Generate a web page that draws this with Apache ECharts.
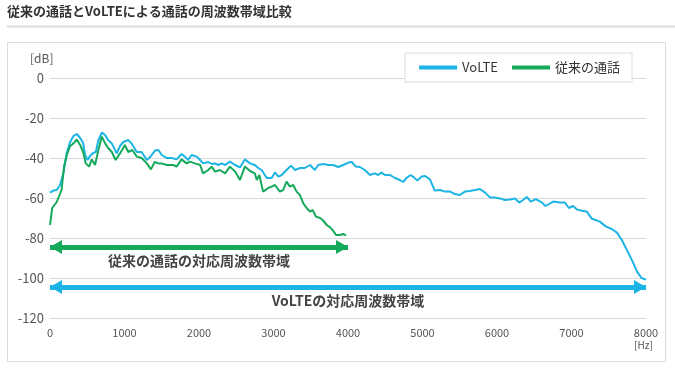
<!DOCTYPE html>
<html><head><meta charset="utf-8">
<script src="https://cdn.jsdelivr.net/npm/echarts@6/dist/echarts.min.js"></script>
<style>html,body{margin:0;padding:0;background:#fff}#c{width:675px;height:373px}</style>
</head><body><div id="c"></div>
<script>
var titleText = '従来の通話とVoLTEによる通話の周波数帯域比較';
var seriesNames = ['VoLTE', '従来の通話'];
var bandLabels = ['従来の通話の対応周波数帯域', 'VoLTEの対応周波数帯域'];
var legacyBand = [0, 4000, -84.5];
var volteBand = [0, 8000, -104.5];
var yTicks = [-120, 0, 20];
var xTicks = [0, 8000, 1000];

var volteFreq = [0,45,90,135,180,225,270,315,360,405,445,470,505,535,580,615,650,695,740,780,830,895,940,985,1050,1095,1165,1230,1300,1345,1410,1455,1500,1565,1635,1700,1765,1810,1855,1900,1970,2015,2055,2125,2170,2215,2260,2305,2350,2415,2485,2550,2615,2685,2750,2795,2840,2910,2975,3020,3065,3110,3175,3235,3290,3355,3420,3490,3555,3600,3670,3735,3800,3870,3935,4005,4050,4105,4160,4225,4295,4360,4405,4450,4495,4565,4630,4695,4740,4785,4840,4885,4930,4990,5035,5100,5165,5235,5300,5370,5435,5500,5570,5635,5705,5770,5840,5905,5970,6040,6105,6175,6240,6300,6350,6400,6455,6520,6600,6650,6755,6845,6910,6965,7020,7075,7155,7205,7275,7380,7460,7540,7610,7675,7755,7825,7880,7940,8000];
var volteDb = [-57.3,-56.3,-56,-53.5,-47.5,-37.5,-32,-29,-28,-30,-32.5,-38.5,-41,-39,-37.5,-37,-31,-27.3,-28.5,-31,-32.7,-37.7,-34,-32,-31,-32.7,-37,-37,-41,-39.5,-36.3,-36,-38.5,-40,-40,-40.7,-38,-39.3,-41,-38.5,-39.3,-41,-42.7,-42,-43,-42.7,-43.5,-42.7,-43.5,-41.8,-43.5,-44.7,-40.7,-42.7,-43.5,-45,-46,-50,-50,-47.2,-49.3,-48.5,-46,-43.8,-46,-45,-45,-43.5,-46,-43.5,-43,-43.5,-43.5,-44.5,-43.5,-42.3,-42,-44.3,-44.5,-46,-48.5,-47.7,-48.5,-47.3,-48.5,-48.5,-50,-51,-52,-50,-48.5,-49.7,-51.3,-49.3,-49,-50.7,-56.3,-56,-56.8,-56.8,-58,-58.5,-56.8,-56.5,-56,-55.5,-57.3,-59.7,-59.7,-60.2,-61,-60.7,-60.3,-62.3,-61,-59.5,-61.8,-60.6,-62.2,-64,-61.8,-62.2,-62.3,-65,-64,-65.8,-66.5,-66.8,-70.4,-71.8,-74.2,-75.5,-77.3,-81,-86.8,-92.2,-96.8,-100,-100.8];

var legacyFreq = [0,30,90,155,190,225,270,315,360,405,445,480,525,560,605,650,695,740,780,830,880,940,1005,1050,1105,1165,1230,1300,1355,1405,1455,1500,1565,1655,1700,1765,1835,1880,1945,2015,2055,2125,2170,2215,2280,2350,2415,2485,2550,2615,2685,2750,2775,2810,2860,2930,2975,3020,3085,3130,3175,3220,3265,3310,3355,3400,3445,3490,3525,3570,3625,3660,3715,3760,3800,3840,3890,3935,3975];
var legacyDb = [-73.5,-65,-62,-56,-44,-38.5,-34,-32.7,-30.7,-33.5,-37,-42.7,-44.3,-40.7,-43.5,-36,-29.3,-32.7,-35,-37,-41,-37.7,-33.5,-37,-36,-39.3,-40,-42.7,-45.7,-42,-42.7,-42.7,-43.5,-43.5,-44.3,-40.7,-42.7,-41.8,-42.7,-43.5,-47.7,-46,-44.3,-46.8,-46,-47.7,-44.3,-46.8,-51,-44.3,-46.5,-47.7,-51,-48.5,-56.8,-55,-54.3,-53.5,-56.8,-56,-51.8,-54.3,-53.5,-56.8,-58.5,-62.7,-65,-66.8,-66,-69.3,-70,-71,-73.5,-74.7,-76.3,-78.5,-78.5,-78,-78.7];

function pairs(xs, ys){ return xs.map(function(x,i){ return [x, ys[i]]; }); }

var BLUE = '#1cb4e4', GREEN = '#15a95b';
var FONT = '"Noto Sans CJK JP", "Noto Sans", sans-serif';

function bandMarkLine(color, label, band) {
  return {
    silent: true, symbol: ['triangle','triangle'], symbolSize: [14, 12],
    symbolOffset: [[0, 6], [0, 6]],
    lineStyle: {color: color, width: 5, type: 'solid'},
    label: {show: true, position: 'insideMiddleBottom', distance: 7, formatter: label,
            color: '#444', fontSize: 14, fontWeight: 'bold', fontFamily: FONT},
    data: [[{coord: [band[0], band[2]]}, {coord: [band[1], band[2]]}]]
  };
}

var chart = echarts.init(document.getElementById('c'), null, {renderer:'canvas'});
chart.setOption({
  animation: false,
  textStyle: {fontFamily: FONT},
  graphic: [
    {type:'text', left:7, top:5, style:{text:titleText, font:'bold 13px ' + FONT, fill:'#333'}},
    {type:'rect', shape:{x:7, y:25.5, width:668, height:2}, style:{fill:'#dcdcdc'}},
    {type:'rect', shape:{x:7.5, y:42.5, width:658, height:319}, style:{fill:'none', stroke:'#dcdcdc', lineWidth:1}},
    {type:'text', left:30, top:52, style:{text:'[dB]', font:'12px ' + FONT, fill:'#555'}},
    {type:'text', left:634, top:340, style:{text:'[Hz]', font:'10px ' + FONT, fill:'#555'}}
  ],
  legend: {
    right: 43, top: 53,
    data: seriesNames,
    icon: 'rect', itemWidth: 38, itemHeight: 4, itemGap: 14,
    padding: [8, 12, 8, 14],
    borderColor: '#dcdcdc', borderWidth: 1, backgroundColor: '#fff',
    textStyle: {fontSize: 13, color: '#333', fontFamily: FONT}
  },
  grid: {left: 50, right: 29, top: 78, bottom: 55, containLabel: false},
  xAxis: {
    type: 'value', min: xTicks[0], max: xTicks[1], interval: xTicks[2],
    axisLine: {show: false}, axisTick: {show: false}, splitLine: {show: false},
    axisLabel: {color: '#555', fontSize: 11, margin: 9, fontFamily: FONT,
                formatter: function(v){ return String(v); }}
  },
  yAxis: {
    type: 'value', min: yTicks[0], max: yTicks[1], interval: yTicks[2],
    axisLine: {show: false}, axisTick: {show: false},
    splitLine: {lineStyle: {color: '#d9d9d9', width: 1}},
    axisLabel: {color: '#555', fontSize: 13, margin: 6, fontFamily: FONT}
  },
  series: [
    {
      name: seriesNames[0], type: 'line', data: pairs(volteFreq, volteDb),
      showSymbol: false, color: BLUE, lineStyle: {width: 2, color: BLUE},
      markLine: bandMarkLine(BLUE, bandLabels[1], volteBand)
    },
    {
      name: seriesNames[1], type: 'line', data: pairs(legacyFreq, legacyDb),
      showSymbol: false, color: GREEN, lineStyle: {width: 2, color: GREEN},
      markLine: bandMarkLine(GREEN, bandLabels[0], legacyBand)
    }
  ]
});
</script></body></html>
